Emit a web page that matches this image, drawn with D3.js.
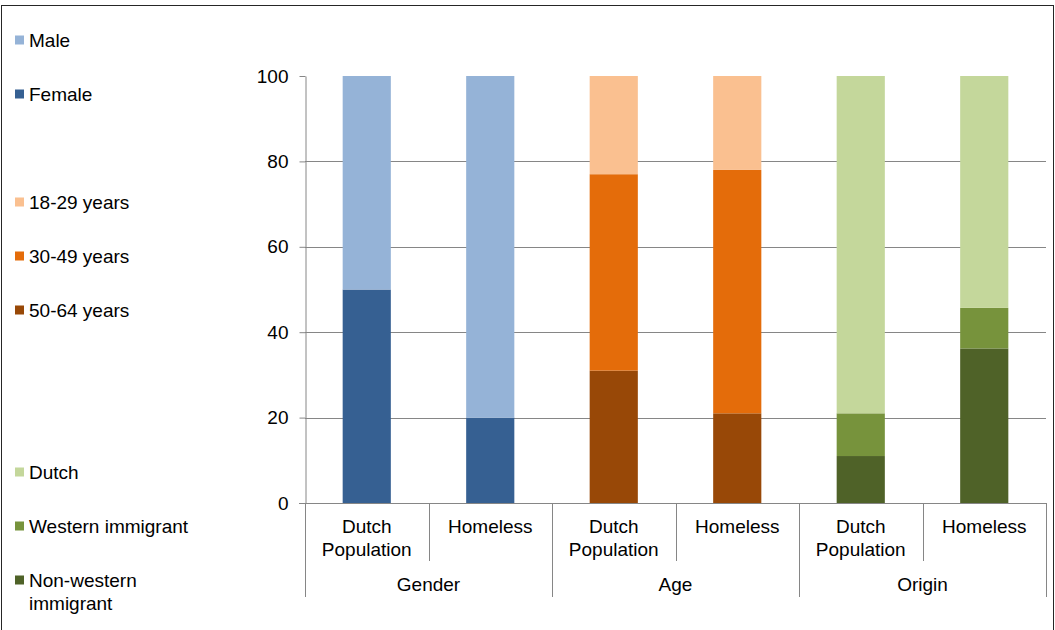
<!DOCTYPE html>
<html>
<head>
<meta charset="utf-8">
<script src="https://cdn.jsdelivr.net/npm/d3@7"></script>
<style>
  body { margin: 0; background: #fff; }
  svg text { font-family: "Liberation Sans", Arial, sans-serif; font-size: 19px; fill: #000; }
</style>
</head>
<body>
<div id="chart"></div>
<script>
// data
var groups = ["Gender", "Age", "Origin"];
var populations = ["Dutch Population", "Homeless"];

var genderSeries = ["Female", "Male"];
var genderDutch = [50, 50];
var genderHomeless = [20, 80];

var ageSeries = ["50-64 years", "30-49 years", "18-29 years"];
var ageDutch = [31, 46, 23];
var ageHomeless = [21, 57, 22];

var originSeries = ["Non-western immigrant", "Western immigrant", "Dutch"];
var originDutch = [11, 10, 79];
var originHomeless = [36.2, 9.5, 54.3];

var yTicks = [0, 20, 40, 60, 80, 100];

// legend order, blanks are empty slots
var legendItems = ["Male", "Female", "", "18-29 years", "30-49 years", "50-64 years", "", "", "Dutch", "Western immigrant", "Non-western immigrant"];

var colors = {
    "Male": "#95B3D7",
    "Female": "#366092",
    "18-29 years": "#FAC090",
    "30-49 years": "#E46C0A",
    "50-64 years": "#984807",
    "Dutch": "#C4D79B",
    "Western immigrant": "#77933C",
    "Non-western immigrant": "#4F6228"
};

var width = 1055;
var height = 630;

var svg = d3.select("#chart")
    .append("svg")
    .attr("width", width)
    .attr("height", height);

// outer frame
svg.append("rect")
    .attr("x", 1.5)
    .attr("y", 5.5)
    .attr("width", 1052)
    .attr("height", 640)
    .attr("fill", "none")
    .attr("stroke", "#262626")
    .attr("stroke-width", 1);

var plotLeft = 305;
var plotRight = 1046;
var plotTop = 76;
var plotBottom = 503;

// build stacked table
var table = [
    { group: "Gender", pop: populations[0], series: genderSeries, values: genderDutch },
    { group: "Gender", pop: populations[1], series: genderSeries, values: genderHomeless },
    { group: "Age", pop: populations[0], series: ageSeries, values: ageDutch },
    { group: "Age", pop: populations[1], series: ageSeries, values: ageHomeless },
    { group: "Origin", pop: populations[0], series: originSeries, values: originDutch },
    { group: "Origin", pop: populations[1], series: originSeries, values: originHomeless }
];
table.forEach(function(d, i) { d.key = i; });

var segments = [];
table.forEach(function(d) {
    var acc = 0;
    d.values.forEach(function(v, j) {
        segments.push({ key: d.key, name: d.series[j], y0: acc, y1: acc + v });
        acc += v;
    });
});

var x_scale = d3.scaleBand()
    .domain(table.map(function(d) { return d.key; }))
    .range([plotLeft, plotRight])
    .paddingInner(0)
    .paddingOuter(0);

var y_scale = d3.scaleLinear()
    .domain([0, 100])
    .range([plotBottom, plotTop]);

var barWidth = x_scale.bandwidth() * 0.39;

// gridlines
svg.append("g")
    .selectAll("line")
    .data(yTicks.filter(function(t) { return t > 0 && t < 100; }))
    .enter()
    .append("line")
    .attr("x1", plotLeft)
    .attr("x2", plotRight)
    .attr("y1", function(d) { return Math.round(y_scale(d)) + 0.5; })
    .attr("y2", function(d) { return Math.round(y_scale(d)) + 0.5; })
    .attr("stroke", "#868686")
    .attr("stroke-width", 1);

// bars
svg.append("g")
    .selectAll("rect")
    .data(segments)
    .enter()
    .append("rect")
    .attr("x", function(d) { return x_scale(d.key) + (x_scale.bandwidth() - barWidth) / 2; })
    .attr("width", barWidth)
    .attr("y", function(d) { return y_scale(d.y1); })
    .attr("height", function(d) { return y_scale(d.y0) - y_scale(d.y1); })
    .attr("fill", function(d) { return colors[d.name]; });

// y axis
var y_axis = d3.axisLeft(y_scale)
    .tickValues(yTicks)
    .tickSize(6)
    .tickSizeOuter(0)
    .tickPadding(11);

var yg = svg.append("g")
    .attr("transform", "translate(" + (plotLeft + 0.5) + ",0)")
    .call(y_axis);
yg.select(".domain").attr("stroke", "#868686");
yg.selectAll(".tick line").attr("stroke", "#868686");
yg.selectAll(".tick text")
    .style("fill", "#000");
yg.attr("font-size", null).attr("font-family", null);

// x axis line
svg.append("line")
    .attr("x1", plotLeft - 6)
    .attr("x2", plotRight)
    .attr("y1", plotBottom + 0.5)
    .attr("y2", plotBottom + 0.5)
    .attr("stroke", "#868686");

// category separators
var bounds = d3.range(table.length + 1);
svg.append("g")
    .selectAll("line")
    .data(bounds)
    .enter()
    .append("line")
    .attr("x1", function(i) { return Math.round(plotLeft + i * x_scale.bandwidth()) + 0.5; })
    .attr("x2", function(i) { return Math.round(plotLeft + i * x_scale.bandwidth()) + 0.5; })
    .attr("y1", plotBottom)
    .attr("y2", function(i) { return i % 2 === 0 ? 597 : 561; })
    .attr("stroke", "#868686");

// category labels
var catLabels = svg.append("g")
    .selectAll("text")
    .data(table)
    .enter()
    .append("text")
    .attr("text-anchor", "middle")
    .attr("transform", function(d) {
        return "translate(" + (x_scale(d.key) + x_scale.bandwidth() / 2) + ",526)";
    });
catLabels.each(function(d) {
    var words = d.pop.split(" ");
    var el = d3.select(this);
    words.forEach(function(w, i) {
        el.append("tspan")
            .attr("x", 0)
            .attr("y", i * 23)
            .attr("dy", "0.35em")
            .text(w);
    });
});

// group labels
svg.append("g")
    .selectAll("text")
    .data(groups)
    .enter()
    .append("text")
    .attr("text-anchor", "middle")
    .attr("x", function(g, i) { return plotLeft + (i * 2 + 1) * x_scale.bandwidth(); })
    .attr("y", 584)
    .attr("dy", "0.35em")
    .text(function(g) { return g; });

// legend
var legendY = d3.scaleLinear()
    .domain([0, legendItems.length - 1])
    .range([40, 580]);

var legend = svg.append("g")
    .selectAll("g")
    .data(legendItems.map(function(name, i) { return { name: name, i: i }; })
        .filter(function(d) { return d.name !== ""; }))
    .enter()
    .append("g")
    .attr("transform", function(d) { return "translate(0," + legendY(d.i) + ")"; });

legend.append("rect")
    .attr("x", 15)
    .attr("y", -4.5)
    .attr("width", 9)
    .attr("height", 9)
    .attr("fill", function(d) { return colors[d.name]; });

legend.append("text")
    .attr("x", 29)
    .each(function(d) {
        var el = d3.select(this);
        var lines = d.name === "Non-western immigrant" ? ["Non-western", "immigrant"] : [d.name];
        lines.forEach(function(l, k) {
            el.append("tspan")
                .attr("x", 29)
                .attr("y", k * 23)
                .attr("dy", "0.35em")
                .text(l);
        });
    });
</script>
</body>
</html>
